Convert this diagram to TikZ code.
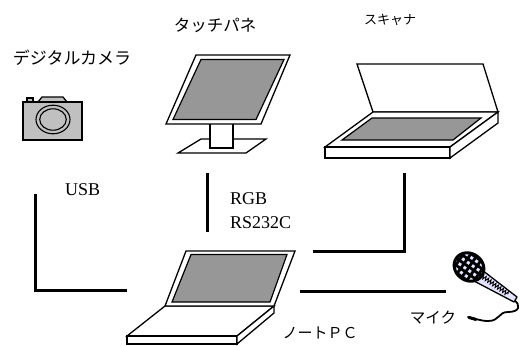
\documentclass[tikz,border=0pt]{standalone}
\usepackage{fontspec}
\setmainfont{Liberation Serif}
\newfontfamily\jpfont{Noto Sans CJK JP}
\usetikzlibrary{decorations.pathmorphing}

\definecolor{camgray}{HTML}{C0C0C0}
\definecolor{scrgray}{HTML}{979797}
\definecolor{micblue}{HTML}{E4E4FF}

\tikzset{
  outline/.style={draw=black, fill=white, line width=1.3pt, line join=miter},
  screen/.style={draw=black, fill=scrgray, line width=1.2pt, line join=miter},
  cable/.style={draw=black, line width=3pt, line cap=butt, line join=miter},
  jp/.style={font=\jpfont\fontsize{#1}{#1}\selectfont, inner sep=0pt},
  lat/.style={font=\fontsize{18}{20}\selectfont, inner sep=0pt, anchor=base west},
}

\begin{document}
\begin{tikzpicture}[x=1pt, y=-1pt]
\useasboundingbox (0,0) rectangle (521,345);

% ---------- labels ----------
\node[jp=17]   (camlabel) at (72,58) {デジタルカメラ};
\node[jp=16.5] (monlabel) at (215,25) {タッチパネ};
\node[jp=13]   (scanlabel) at (390,20) {スキャナ};
\node[jp=15.5] (miclabel) at (433,318) {マイク};
\node[jp=15]   (pclabel) at (320,333) {ノートＰＣ};
\node[lat] (usb) at (65,195) {USB};
\node[lat] (rgb) at (230,204) {RGB};
\node[lat] (rs) at (230,228) {RS232C};

% ---------- digital camera ----------
\filldraw[outline, fill=camgray] (38,102) -- (42,97) -- (63,97) -- (67,102) -- cycle;
\filldraw[outline, fill=camgray] (27,98) rectangle (33,102);
\filldraw[outline, fill=camgray] (23,102) rectangle (82,140);
\draw[line width=1.1pt] (53,119.5) ellipse [x radius=17, y radius=14.3];
\draw[line width=1.1pt] (53,119.5) ellipse [x radius=13.3, y radius=10.7];

% ---------- touch panel monitor ----------
\filldraw[outline] (178,153) -- (201,139) -- (266,139) -- (246,153) -- cycle;
\filldraw[outline] (210,123) rectangle (233,148);
\filldraw[outline] (196,55) -- (290,55) -- (261,124) -- (166,124) -- cycle;
\filldraw[screen] (201,59.5) -- (284,59.5) -- (256,119.5) -- (173,119.5) -- cycle;

% ---------- scanner ----------
\filldraw[outline] (357,64) -- (483,64) -- (498,112) -- (373,112) -- cycle;
\filldraw[outline] (373,112) -- (498,112) -- (450,147) -- (325,147) -- cycle;
\filldraw[outline] (325,147) rectangle (450,158);
\filldraw[outline] (450,147) -- (498,112) -- (498,123) -- (450,158) -- cycle;
\filldraw[screen] (372,118) -- (481,118) -- (453,140) -- (342,140) -- cycle;

% ---------- notebook PC ----------
\filldraw[outline] (165,306) -- (274,306) -- (237,336) -- (127,336) -- cycle;
\filldraw[outline] (127,336) rectangle (237,344);
\filldraw[outline] (237,336) -- (274,306) -- (274,313) -- (237,344) -- cycle;
\filldraw[outline] (186,251) -- (295,251) -- (274,306) -- (165,306) -- cycle;
\filldraw[screen] (191,254.5) -- (287,254.5) -- (270,302) -- (172,302) -- cycle;

% ---------- microphone ----------
\draw[line width=1.8pt, line cap=round]
  (514,300) .. controls (521,305) and (520,312) .. (508,312)
            .. controls (498,312) and (500,321) .. (488,321)
            .. controls (480,321) and (474,318) .. (468,317);
\draw[line width=3pt, line cap=round] (476,319.5) -- (469,317.5);
\filldraw[draw=black, fill=micblue, line width=1.3pt, line join=round]
  (474,281) -- (514,302) -- (517,297) -- (482,270) -- cycle;
\draw[decorate, decoration={zigzag, amplitude=2pt, segment length=3pt}, line width=0.9pt]
  (482,276) -- (508,294);
\begin{scope}[shift={(469,267)}, rotate=-35]
  \fill[micblue] (0,0) ellipse [x radius=15.5, y radius=13.5];
  \begin{scope}
    \clip (0,0) ellipse [x radius=15.5, y radius=13.5];
    \foreach \k in {-12,-6,...,12} {
      \draw[line width=2.8pt] (\k,-16) -- (\k,16);
      \draw[line width=2.8pt] (-16,\k) -- (16,\k);
    }
  \end{scope}
  \draw[line width=3pt] (0,0) ellipse [x radius=15.5, y radius=13.5];
\end{scope}

% ---------- cables ----------
\coordinate (usbA) at (35,194);
\coordinate (usbB) at (35,290.5);
\coordinate (usbC) at (127,290.5);
\coordinate (rgbA) at (207,173);
\coordinate (rgbB) at (207,232);
\coordinate (scnA) at (404,173);
\coordinate (scnB) at (404,251);
\coordinate (scnC) at (313,251);
\coordinate (micA) at (300,291);
\coordinate (micB) at (446,291);
\draw[cable] (usbA) -- (usbB) -- (usbC);
\draw[cable] (rgbA) -- (rgbB);
\draw[cable] (scnA) -- (scnB) -- (scnC);
\draw[cable] (micA) -- (micB);
\end{tikzpicture}
\end{document}
